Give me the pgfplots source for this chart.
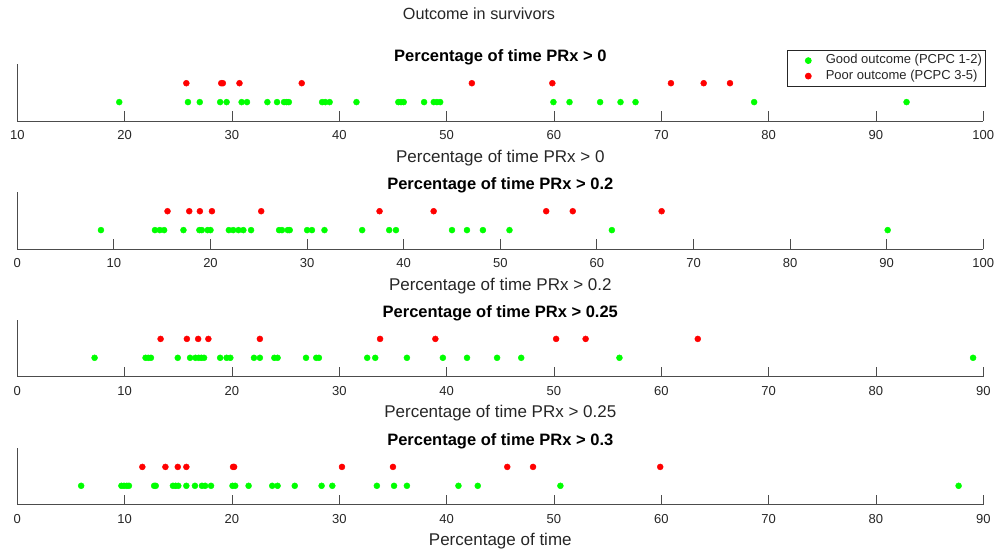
\documentclass[border=0pt]{standalone}
\usepackage{fontspec}
\setmainfont{Liberation Sans}
\usepackage{pgfplots}
\pgfplotsset{compat=1.18}
\definecolor{axline}{gray}{0.3}
\definecolor{axtext}{gray}{0.15}
\definecolor{mgreen}{rgb}{0,1,0}
\definecolor{mred}{rgb}{1,0,0}

\pgfplotsset{
  dotpanel/.style={
    scale only axis, width=966pt, height=56.7pt,
    ymin=0, ymax=3, ytick=\empty,
    axis lines*=left,
    axis line style={axline, line width=0.9pt},
    tick align=inside, major tick length=10pt,
    every tick/.style={axline, line width=0.9pt},
    tick label style={font=\fontsize{13}{15}\selectfont, text=axtext},
    xticklabel style={anchor=base, yshift=-18.5pt},
    /pgf/number format/assume math mode=true,
    title style={at={(0.5,1)}, anchor=base, yshift=-3.3pt, font=\bfseries\fontsize{16.5}{19}\selectfont},
    xlabel style={at={(axis description cs:0.5,0)}, anchor=base, yshift=-41pt, font=\fontsize{17}{20}\selectfont, text=axtext},
    clip=false,
  },
  good/.style={only marks, mark=*, mark size=3pt, color=mgreen, mark options={draw=mgreen, fill=mgreen}},
  poor/.style={only marks, mark=*, mark size=3pt, color=mred, mark options={draw=mred, fill=mred}},
}

\begin{document}
\begin{tikzpicture}[x=1pt,y=1pt]
\useasboundingbox (0,0) rectangle (1003,-557);
\node[font=\fontsize{16.2}{19}\selectfont, text=axtext] at (479,-14) {Outcome in survivors};

% Panel 1
\begin{axis}[dotpanel, at={(17.3pt,-121pt)}, anchor=origin,
  xmin=10, xmax=100, xtick={10,20,...,100},
  title={Percentage of time PRx > 0},
  xlabel={Percentage of time PRx > 0},
  legend style={at={(1.0025,1.252)}, anchor=north east, draw=axtext, line width=0.7pt,
    font=\fontsize{13}{15}\selectfont, text=axtext, inner xsep=3pt, inner ysep=3.5pt, row sep=2pt,
    nodes={inner sep=0.5pt, text height=9.5pt, text depth=3pt, anchor=west}},
  legend cell align=left,
  legend image code/.code={\path[draw=none, fill=none] (0pt,-3pt) rectangle (35pt,3pt); \draw[#1, mark repeat=2, mark phase=2] plot coordinates {(0pt,0pt)(18pt,0pt)(35pt,0pt)};},
]
\addplot[good] coordinates {
(19.5,1)(25.9,1)(27.0,1)(28.9,1)(29.5,1)(30.9,1)(31.4,1)(33.3,1)(34.2,1)(34.85,1)
(35.1,1)(35.3,1)(38.4,1)(38.7,1)(39.1,1)(41.6,1)(45.5,1)(45.75,1)(46.0,1)(47.9,1)
(48.8,1)(49.1,1)(49.4,1)(59.95,1)(61.45,1)(64.3,1)(66.2,1)(67.6,1)(78.65,1)(92.85,1)};
\addlegendentry{Good outcome (PCPC 1-2)}
\addplot[poor] coordinates {
(25.75,2)(29.0,2)(29.15,2)(30.7,2)(36.5,2)(52.35,2)(59.85,2)(70.9,2)(73.95,2)(76.4,2)};
\addlegendentry{Poor outcome (PCPC 3-5)}
\end{axis}

% Panel 2
\begin{axis}[dotpanel, at={(17.3pt,-249pt)}, anchor=origin,
  xmin=0, xmax=100, xtick={0,10,...,100},
  title={Percentage of time PRx > 0.2},
  xlabel={Percentage of time PRx > 0.2},
]
\addplot[good] coordinates {
(8.66,1)(14.25,1)(14.75,1)(15.2,1)(17.2,1)(18.85,1)(19.1,1)(19.7,1)(20.0,1)(21.9,1)
(22.35,1)(22.9,1)(23.4,1)(24.2,1)(27.1,1)(27.4,1)(28.0,1)(28.2,1)(30.0,1)(30.5,1)
(31.8,1)(35.7,1)(38.5,1)(39.2,1)(45.0,1)(46.55,1)(48.2,1)(50.95,1)(61.55,1)(90.1,1)};
\addplot[poor] coordinates {
(15.55,2)(17.8,2)(18.9,2)(20.15,2)(25.25,2)(37.5,2)(43.1,2)(54.75,2)(57.5,2)(66.7,2)};
\end{axis}

% Panel 3
\begin{axis}[dotpanel, at={(17.3pt,-376.7pt)}, anchor=origin,
  xmin=0, xmax=90, xtick={0,10,...,90},
  title={Percentage of time PRx > 0.25},
  xlabel={Percentage of time PRx > 0.25},
]
\addplot[good] coordinates {
(7.2,1)(11.95,1)(12.2,1)(12.45,1)(14.95,1)(16.1,1)(16.6,1)(16.9,1)(17.15,1)(17.4,1)
(18.9,1)(19.5,1)(19.85,1)(22.05,1)(22.6,1)(23.95,1)(24.25,1)(26.9,1)(27.85,1)(28.1,1)
(32.6,1)(33.35,1)(36.3,1)(39.65,1)(41.9,1)(44.7,1)(46.95,1)(56.1,1)(89.05,1)};
\addplot[poor] coordinates {
(13.35,2)(15.8,2)(16.85,2)(17.8,2)(22.6,2)(33.8,2)(38.95,2)(50.2,2)(52.95,2)(63.4,2)};
\end{axis}

% Panel 4
\begin{axis}[dotpanel, at={(17.3pt,-504.7pt)}, anchor=origin,
  xmin=0, xmax=90, xtick={0,10,...,90},
  title={Percentage of time PRx > 0.3},
  xlabel={Percentage of time},
]
\addplot[good] coordinates {
(5.95,1)(9.7,1)(9.95,1)(10.2,1)(10.4,1)(12.75,1)(12.9,1)(14.5,1)(14.75,1)(15.0,1)
(15.75,1)(16.55,1)(17.2,1)(17.5,1)(18.05,1)(20.05,1)(20.3,1)(21.55,1)(23.75,1)(24.25,1)
(25.85,1)(28.35,1)(29.35,1)(33.5,1)(35.1,1)(36.3,1)(41.1,1)(42.9,1)(50.6,1)(87.7,1)};
\addplot[poor] coordinates {
(11.65,2)(13.8,2)(14.95,2)(15.75,2)(20.1,2)(20.2,2)(30.25,2)(35.0,2)(45.65,2)(48.05,2)(59.9,2)};
\end{axis}
\end{tikzpicture}
\end{document}
